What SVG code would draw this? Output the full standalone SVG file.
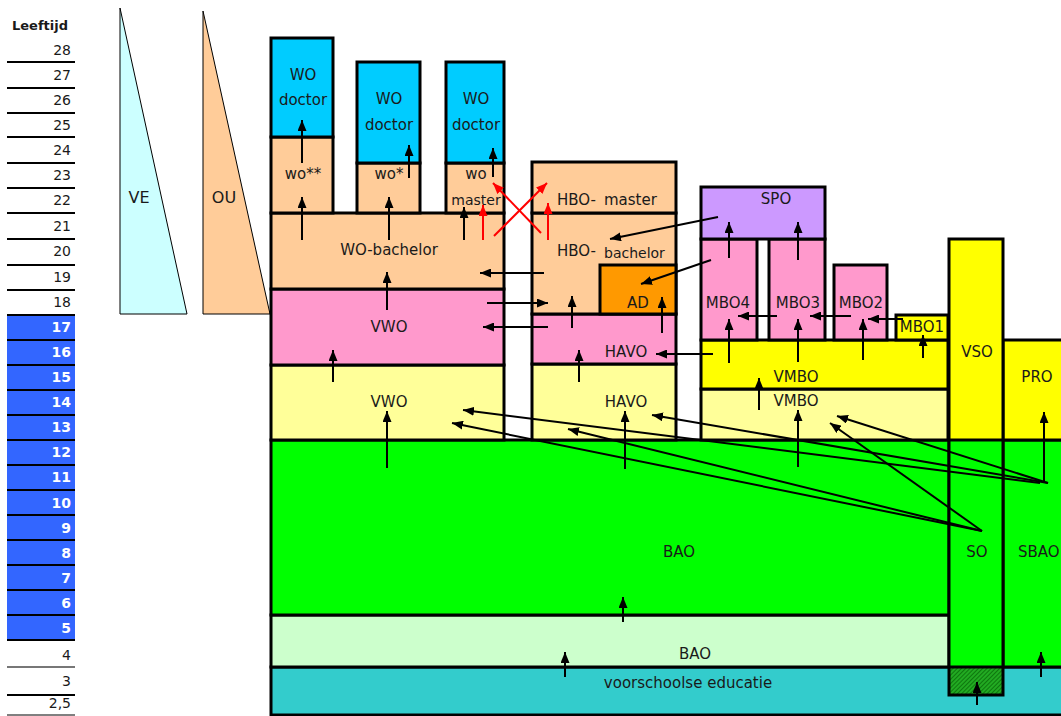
<svg xmlns="http://www.w3.org/2000/svg" width="1061" height="716" viewBox="0 0 1061 716">
<style>
text{font-family:"DejaVu Sans","Liberation Sans",sans-serif;font-size:15px;fill:#1a1a1a;text-anchor:middle}
.age{font-size:14px;text-anchor:end}
.agew{font-size:14px;text-anchor:end;fill:#fff;font-weight:bold}
.b{stroke:#000;stroke-width:3}
.peach{fill:#FFCC99}
.doc{fill:#00CCFF}
.pink{fill:#FF99CC}
.ly{fill:#FFFF99}
.y{fill:#FFFF00}
.g{fill:#00FF00}
.lg{fill:#CCFFCC}
.sm{font-size:14px}
.ln{stroke:#000;stroke-width:2;fill:none}
.ar{stroke:#000;stroke-width:2;fill:none;marker-end:url(#ah)}
.rar{stroke:#FF0000;stroke-width:2;fill:none;marker-end:url(#rah)}
</style>
<defs>
<marker id="ah" viewBox="0 0 11 9" refX="11" refY="4.5" markerWidth="11" markerHeight="9" markerUnits="userSpaceOnUse" orient="auto">
<path d="M0,0 L11,4.5 L0,9 z" fill="#000"/>
</marker>
<marker id="rah" viewBox="0 0 11 9" refX="11" refY="4.5" markerWidth="11" markerHeight="9" markerUnits="userSpaceOnUse" orient="auto">
<path d="M0,0 L11,4.5 L0,9 z" fill="#FF0000"/>
</marker>
<pattern id="hatch" width="3" height="3" patternUnits="userSpaceOnUse" patternTransform="rotate(45)">
<rect width="3" height="3" fill="#22AA22"/>
<line x1="0" y1="0" x2="0" y2="3" stroke="#005500" stroke-width="1.2"/>
</pattern>
</defs>
<rect width="1061" height="716" fill="#fff"/>

<g id="age-scale">
<rect x="7" y="315" width="68" height="325" fill="#3366FF"/>
<text x="40" y="30" style="font-weight:bold;font-size:13px">Leeftijd</text>
<g class="ln">
<line x1="7" y1="62" x2="75" y2="62"/><line x1="7" y1="88" x2="75" y2="88"/><line x1="7" y1="113" x2="75" y2="113"/>
<line x1="7" y1="137" x2="75" y2="137"/><line x1="7" y1="163" x2="75" y2="163"/><line x1="7" y1="188" x2="75" y2="188"/>
<line x1="7" y1="213" x2="75" y2="213"/><line x1="7" y1="239" x2="75" y2="239"/><line x1="7" y1="265" x2="75" y2="265"/>
<line x1="7" y1="290" x2="75" y2="290"/><line x1="7" y1="315" x2="75" y2="315"/><line x1="7" y1="340" x2="75" y2="340"/>
<line x1="7" y1="365" x2="75" y2="365"/><line x1="7" y1="390" x2="75" y2="390"/><line x1="7" y1="415" x2="75" y2="415"/>
<line x1="7" y1="440" x2="75" y2="440"/><line x1="7" y1="465" x2="75" y2="465"/><line x1="7" y1="490" x2="75" y2="490"/>
<line x1="7" y1="515" x2="75" y2="515"/><line x1="7" y1="540" x2="75" y2="540"/><line x1="7" y1="565" x2="75" y2="565"/>
<line x1="7" y1="590" x2="75" y2="590"/><line x1="7" y1="615" x2="75" y2="615"/><line x1="7" y1="640" x2="75" y2="640"/>
<line x1="7" y1="667" x2="75" y2="667" stroke="#777"/><line x1="7" y1="695" x2="75" y2="695"/><line x1="7" y1="715" x2="75" y2="715" stroke-width="1"/>
</g>
<text class="age" x="71" y="55">28</text>
<text class="age" x="71" y="80">27</text>
<text class="age" x="71" y="105">26</text>
<text class="age" x="71" y="130">25</text>
<text class="age" x="71" y="155">24</text>
<text class="age" x="71" y="180">23</text>
<text class="age" x="71" y="205">22</text>
<text class="age" x="71" y="231">21</text>
<text class="age" x="71" y="256">20</text>
<text class="age" x="71" y="282">19</text>
<text class="age" x="71" y="307">18</text>
<text class="agew" x="71" y="332">17</text>
<text class="agew" x="71" y="357">16</text>
<text class="agew" x="71" y="382">15</text>
<text class="agew" x="71" y="407">14</text>
<text class="agew" x="71" y="432">13</text>
<text class="agew" x="71" y="457">12</text>
<text class="agew" x="71" y="482">11</text>
<text class="agew" x="71" y="508">10</text>
<text class="agew" x="71" y="533">9</text>
<text class="agew" x="71" y="558">8</text>
<text class="agew" x="71" y="583">7</text>
<text class="agew" x="71" y="608">6</text>
<text class="agew" x="71" y="633">5</text>
<text class="age" x="71" y="660">4</text>
<text class="age" x="71" y="686">3</text>
<text class="age" x="71" y="708">2,5</text>
</g>

<g id="VE">
<polygon points="120,8 120,314 187,314" fill="#CCFFFF" stroke="#000" stroke-width="1"/>
<text x="139" y="203" style="font-size:16px">VE</text>
</g>
<g id="OU">
<polygon points="203,11 203,314 270,314" fill="#FFCC99" stroke="#000" stroke-width="1"/>
<text x="224" y="203" style="font-size:16px">OU</text>
</g>

<g id="voorschoolse">
<rect class="b" x="271" y="667" width="800" height="48" fill="#33CCCC"/>
<text x="688" y="688">voorschoolse educatie</text>
</g>
<g id="BAO-onder">
<rect class="b lg" x="271" y="615" width="678" height="52"/>
<text x="695" y="659">BAO</text>
</g>
<g id="BAO">
<rect class="b g" x="271" y="440" width="678" height="175"/>
<text x="679" y="557">BAO</text>
</g>
<g id="SBAO">
<rect class="b g" x="1003" y="440" width="70" height="227"/>
<text x="1018" y="557" style="text-anchor:start">SBAO</text>
</g>
<g id="PRO">
<rect class="b y" x="1003" y="340" width="70" height="100"/>
<text x="1037" y="382">PRO</text>
</g>
<g id="VSO-SO">
<rect x="949" y="239" width="54" height="201" class="y"/>
<rect x="949" y="440" width="54" height="227" class="g"/>
<rect x="949" y="667" width="54" height="28" fill="url(#hatch)"/>
<rect x="949" y="239" width="54" height="456" fill="none" class="b"/>
<line x1="949" y1="440" x2="1003" y2="440" class="b"/>
<line x1="949" y1="667" x2="1003" y2="667" class="b"/>
<text x="977" y="357">VSO</text>
<text x="977" y="557">SO</text>
</g>

<g id="VWO-onder">
<rect class="b ly" x="271" y="365" width="233" height="75"/>
<text x="389" y="407">VWO</text>
</g>
<g id="VWO-boven">
<rect class="b pink" x="271" y="289" width="233" height="76"/>
<text x="389" y="332">VWO</text>
</g>
<g id="WO-bachelor">
<rect class="b peach" x="271" y="213" width="233" height="76"/>
<text x="389" y="255">WO-bachelor</text>
</g>
<g id="wo2">
<rect class="b peach" x="271" y="137" width="62" height="76"/>
<text x="303" y="179">wo**</text>
</g>
<g id="WO-doctor-1">
<rect class="b doc" x="271" y="38" width="62" height="99"/>
<text x="303" y="80">WO</text>
<text x="303" y="105">doctor</text>
</g>
<g id="wo1">
<rect class="b peach" x="357" y="163" width="63" height="50"/>
<text x="389" y="179">wo*</text>
</g>
<g id="WO-doctor-2">
<rect class="b doc" x="357" y="62" width="63" height="101"/>
<text x="389" y="104">WO</text>
<text x="389" y="130">doctor</text>
</g>
<g id="wo-master">
<rect class="b peach" x="446" y="163" width="58" height="50"/>
<text x="476" y="179">wo</text>
<text class="sm" x="476" y="205">master</text>
</g>
<g id="WO-doctor-3">
<rect class="b doc" x="446" y="62" width="58" height="101"/>
<text x="476" y="104">WO</text>
<text x="476" y="130">doctor</text>
</g>

<g id="HAVO-onder">
<rect class="b ly" x="532" y="364" width="144" height="76"/>
<text x="626" y="407">HAVO</text>
</g>
<g id="HAVO-boven">
<rect class="b pink" x="532" y="314" width="144" height="50"/>
<text x="626" y="357">HAVO</text>
</g>
<g id="HBO-bachelor">
<rect class="b peach" x="532" y="213" width="144" height="101"/>
<text x="557" y="256" style="text-anchor:start">HBO-<tspan x="604" y="258" class="sm">bachelor</tspan></text>
</g>
<g id="AD">
<rect class="b" x="600" y="265" width="76" height="49" fill="#FF9900"/>
<text x="638" y="308">AD</text>
</g>
<g id="HBO-master">
<rect class="b peach" x="532" y="162" width="144" height="51"/>
<text x="557" y="205" style="text-anchor:start">HBO-<tspan x="604">master</tspan></text>
</g>

<g id="VMBO-onder">
<rect class="b ly" x="701" y="389" width="247" height="51"/>
<text x="796" y="406">VMBO</text>
</g>
<g id="VMBO-boven">
<rect class="b y" x="701" y="340" width="247" height="49"/>
<text x="796" y="382">VMBO</text>
</g>
<g id="MBO4">
<rect class="b pink" x="701" y="239" width="56" height="101"/>
<text x="728" y="308">MBO4</text>
</g>
<g id="MBO3">
<rect class="b pink" x="769" y="239" width="56" height="101"/>
<text x="798" y="308">MBO3</text>
</g>
<g id="MBO2">
<rect class="b pink" x="834" y="265" width="53" height="75"/>
<text x="861" y="308">MBO2</text>
</g>
<g id="MBO1">
<rect class="b y" x="896" y="315" width="52" height="25"/>
<text x="922" y="332">MBO1</text>
</g>
<g id="SPO">
<rect class="b" x="701" y="187" width="124" height="52" fill="#CC99FF"/>
<text x="776" y="204">SPO</text>
</g>

<g id="connectors">
<line class="ar" x1="302" y1="163" x2="302" y2="120"/>
<line class="ar" x1="302" y1="240" x2="302" y2="197"/>
<line class="ar" x1="409" y1="178" x2="409" y2="145"/>
<line class="ar" x1="389" y1="240" x2="389" y2="197"/>
<line class="ar" x1="493" y1="177" x2="493" y2="148"/>
<line class="ar" x1="464" y1="240" x2="464" y2="207"/>
<line class="rar" x1="483" y1="240" x2="483" y2="205"/>
<line class="rar" x1="494" y1="236" x2="547" y2="183"/>
<line class="rar" x1="541" y1="233" x2="493" y2="183"/>
<line class="rar" x1="548" y1="240" x2="548" y2="203"/>
<line class="ar" x1="387" y1="310" x2="387" y2="272"/>
<line class="ar" x1="544" y1="273" x2="480" y2="273"/>
<line class="ar" x1="487" y1="303" x2="548" y2="303"/>
<line class="ar" x1="548" y1="327" x2="483" y2="327"/>
<line class="ar" x1="572" y1="328" x2="572" y2="296"/>
<line class="ar" x1="662" y1="333" x2="662" y2="297"/>
<line class="ar" x1="579" y1="382" x2="579" y2="350"/>
<line class="ar" x1="713" y1="354" x2="656" y2="354"/>
<line class="ar" x1="718" y1="217" x2="610" y2="239"/>
<line class="ar" x1="711" y1="260" x2="641" y2="284"/>
<line class="ar" x1="729" y1="258" x2="729" y2="222"/>
<line class="ar" x1="798" y1="260" x2="798" y2="222"/>
<line class="ar" x1="777" y1="316" x2="738" y2="316"/>
<line class="ar" x1="851" y1="316" x2="810" y2="316"/>
<line class="ar" x1="903" y1="319" x2="868" y2="319"/>
<line class="ar" x1="729" y1="363" x2="729" y2="319"/>
<line class="ar" x1="798" y1="362" x2="798" y2="319"/>
<line class="ar" x1="863" y1="360" x2="863" y2="319"/>
<line class="ar" x1="923" y1="358" x2="923" y2="335"/>
<line class="ar" x1="759" y1="410" x2="759" y2="378"/>
<line class="ar" x1="798" y1="467" x2="798" y2="410"/>
<line class="ar" x1="1044" y1="482" x2="1044" y2="412"/>
<line class="ar" x1="333" y1="382" x2="333" y2="350"/>
<line class="ar" x1="387" y1="468" x2="387" y2="411"/>
<line class="ar" x1="625" y1="469" x2="625" y2="411"/>
<line class="ar" x1="1040" y1="483" x2="463" y2="410"/>
<line class="ar" x1="1048" y1="483" x2="652" y2="415"/>
<line class="ar" x1="1048" y1="483" x2="837" y2="416"/>
<line class="ar" x1="982" y1="531" x2="452" y2="423"/>
<line class="ar" x1="982" y1="531" x2="568" y2="429"/>
<line class="ar" x1="982" y1="531" x2="830" y2="423"/>
<line class="ar" x1="623" y1="622" x2="623" y2="597"/>
<line class="ar" x1="565" y1="677" x2="565" y2="652"/>
<line class="ar" x1="977" y1="705" x2="977" y2="682"/>
<line class="ar" x1="1041" y1="677" x2="1041" y2="652"/>
</g>
</svg>
